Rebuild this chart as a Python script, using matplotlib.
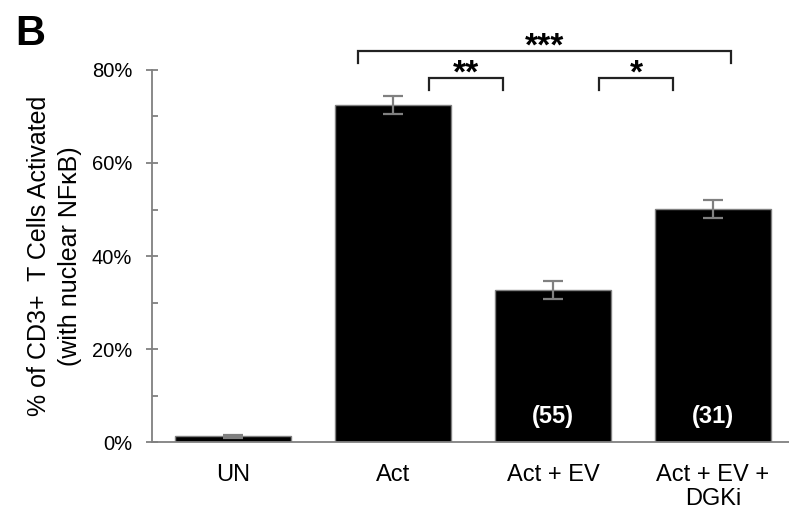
"""Bar chart: % of CD3+ T cells with nuclear NFkB, by treatment."""

import matplotlib

matplotlib.use("Agg")
import matplotlib.pyplot as plt
import numpy as np

plt.rcParams["font.family"] = ["Liberation Sans", "DejaVu Sans"]

categories = ["UN", "Act", "Act + EV", "Act + EV +\nDGKi"]
activated_pct = [1.2, 72.5, 32.7, 50.1]
sem_pct = [0.3, 2.0, 1.9, 1.9]
cell_counts = [None, None, "(55)", "(31)"]

# significance brackets: (left x, right x, label)
brackets = [(0.78, 3.11, "***"), (1.225, 1.69, "**"), (2.29, 2.75, "*")]
bracket_top = [84.1, 78.3, 78.3]

GRAY = "#808080"


def draw_bracket(ax, x0, x1, y, label, drop=2.6):
    ax.plot([x0, x0, x1, x1], [y - drop, y, y, y - drop], color="#222222",
            lw=1.6, clip_on=False, solid_joinstyle="miter")
    ax.text((x0 + x1) / 2, y - 2.6, label, ha="center", va="bottom",
            fontsize=24, fontweight="bold", clip_on=False)


def main() -> None:
    fig = plt.figure(figsize=(7.89, 5.15), dpi=100)
    ax = fig.add_axes([0.1926, 0.1417, 0.8074, 0.7224])

    x = np.arange(len(categories))
    ax.bar(x, activated_pct, width=0.72, color="black", edgecolor=GRAY,
           linewidth=1.0, zorder=2)
    ax.errorbar(x, activated_pct, yerr=sem_pct, fmt="none", ecolor=GRAY,
                elinewidth=1.6, capsize=7, capthick=1.6, zorder=3)

    for xi, label in zip(x, cell_counts):
        if label:
            ax.text(xi, 5.4, label, ha="center", va="center", color="white",
                    fontsize=17, fontweight="bold", zorder=4)

    ax.set_xlim(-0.506, 3.475)
    ax.set_ylim(0, 80)
    ax.set_xticks(x)
    ax.set_xticklabels(categories, fontsize=17, linespacing=1.1)
    ax.tick_params(axis="x", length=0, pad=16)

    ax.set_yticks(np.arange(0, 81, 20))
    ax.set_yticks(np.arange(10, 80, 20), minor=True)
    ax.set_yticklabels([f"{v}%" for v in range(0, 81, 20)], fontsize=14.5)
    ax.tick_params(axis="y", which="major", direction="inout", length=8.5,
                   width=1.3, color=GRAY, pad=10)
    ax.tick_params(axis="y", which="minor", direction="in", length=4.3,
                   width=1.3, color=GRAY)

    for side in ("top", "right"):
        ax.spines[side].set_visible(False)
    for side in ("left", "bottom"):
        ax.spines[side].set_color(GRAY)
        ax.spines[side].set_linewidth(1.3)

    ax.set_ylabel("% of CD3+  T Cells Activated\n(with nuclear NF\u03baB)",
                  fontsize=18, linespacing=1.35, labelpad=7)

    for (x0, x1, label), y in zip(brackets, bracket_top):
        draw_bracket(ax, x0, x1, y, label)

    fig.text(0.019, 0.972, "B", fontsize=30, fontweight="bold",
             ha="left", va="top")

    fig.savefig("out.png", dpi=100)
    plt.close(fig)


if __name__ == "__main__":
    main()
